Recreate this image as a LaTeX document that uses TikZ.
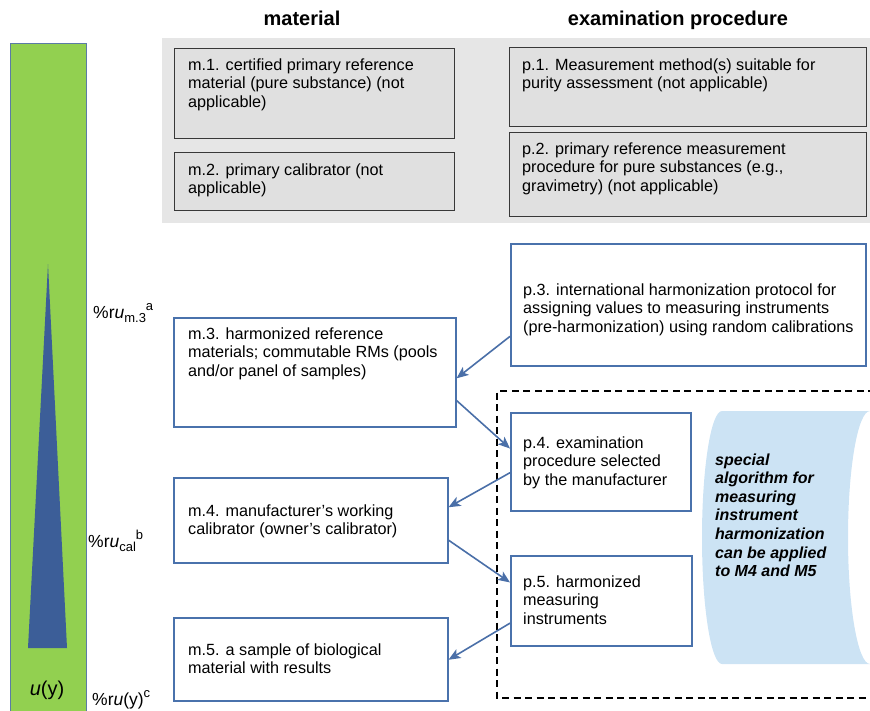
\documentclass[tikz,border=0pt]{standalone}
\usepackage{fontspec}
\setmainfont{Liberation Sans}
\usetikzlibrary{calc,arrows.meta}
\definecolor{bargreen}{HTML}{92D050}
\definecolor{barborder}{HTML}{5B7BA5}
\definecolor{tri}{HTML}{3C5E98}
\definecolor{boxblue}{HTML}{4A72AC}
\definecolor{arrowblue}{HTML}{4A6FA8}
\definecolor{panelgray}{HTML}{E6E6E6}
\definecolor{boxgray}{HTML}{E0E0E0}
\definecolor{lightblue}{HTML}{CCE3F4}
\newcommand\lsub[1]{\raisebox{-4.5pt}{\fontsize{13}{13}\selectfont #1}}
\newcommand\lsup[1]{\raisebox{7.5pt}{\fontsize{13}{13}\selectfont #1}}
\begin{document}
\begin{tikzpicture}[x=1pt,y=-1pt,
  graybox/.style={draw=black!78, fill=boxgray, line width=1.2pt, anchor=north west, inner sep=0},
  bluebox/.style={draw=boxblue, fill=white, line width=1.5pt, anchor=north west, inner sep=0},
  boxtext/.style={anchor=base west, inner sep=0, align=left, font=\fontsize{16.2}{18.5}\selectfont},
  conn/.style={draw=arrowblue, line width=1.6pt, -{Stealth[length=12pt,width=10pt,inset=3pt]}},
  header/.style={anchor=base, inner sep=0, font=\bfseries\fontsize{20}{24}\selectfont},
  ulabel/.style={anchor=base west, inner sep=0, font=\fontsize{17.5}{20}\selectfont},
]
\clip (0,0) rectangle (870,710);
% uncertainty bar
\draw[fill=bargreen, draw=barborder, line width=1pt] (10,43) rectangle (86,715);
\fill[tri] (48,264) -- (67,648) -- (28,648) -- cycle;
\node[anchor=base, inner sep=0, font=\fontsize{20}{24}\selectfont] (uy) at (47,695) {\textit{u}(y)};
\node[ulabel] (lm3) at (93,318) {\%r\textit{u}\lsub{m.3}\lsup{a}};
\node[ulabel] (lcal) at (88,547) {\%r\textit{u}\lsub{cal}\lsup{b}};
\node[ulabel] (luy) at (92,705) {\%r\textit{u}(y)\lsup{c}};
% headers
\node[header] (hm) at (302,25) {material};
\node[header] (hp) at (678,25) {examination procedure};
% gray panel
\fill[panelgray] (162,38) rectangle (875,223);
\node[graybox, minimum width=280, minimum height=90] (m1) at (174,48) {};
\node[graybox, minimum width=280, minimum height=58] (m2) at (174,152) {};
\node[graybox, minimum width=357, minimum height=79] (p1) at (509,47) {};
\node[graybox, minimum width=357, minimum height=84] (p2) at (509,132) {};
\node[boxtext] (m1t) at ([shift={(14,59)}]m1.north west) {m.1. certified primary reference\\material (pure substance) (not\\applicable)};
\node[boxtext] (m2t) at ([shift={(14,41.5)}]m2.north west) {m.2. primary calibrator (not\\applicable)};
\node[boxtext] (p1t) at ([shift={(13,41.5)}]p1.north west) {p.1. Measurement method(s) suitable for\\purity assessment (not applicable)};
\node[boxtext] (p2t) at ([shift={(13,59)}]p2.north west) {p.2. primary reference measurement\\procedure for pure substances (e.g.,\\gravimetry) (not applicable)};
% dashed frame and special algorithm
\draw[line width=1.3pt, dash pattern=on 7pt off 4.5pt] (875,391) -- (497,391) -- (497,698) -- (875,698);
\fill[lightblue] (722,411) -- (870,411)
  .. controls (857.9,411) and (848,467.7) .. (848,537.5)
  .. controls (848,607.3) and (857.9,664) .. (870,664)
  -- (722,664)
  .. controls (711,664) and (702,607.3) .. (702,537.5)
  .. controls (702,467.7) and (711,411) .. (722,411) -- cycle;
\node[anchor=base west, inner sep=0, align=left, font=\bfseries\itshape\fontsize{16}{18.6}\selectfont] (alg) at (715,576.6) {special\\algorithm for\\measuring\\instrument\\harmonization\\can be applied\\to M4 and M5};
% blue boxes
\node[bluebox, minimum width=355, minimum height=122] (p3) at (510,243) {};
\node[bluebox, minimum width=282, minimum height=109] (m3) at (173,317) {};
\node[bluebox, minimum width=180, minimum height=98] (p4) at (510,412) {};
\node[bluebox, minimum width=274, minimum height=85] (m4) at (173,477) {};
\node[bluebox, minimum width=181, minimum height=90] (p5) at (510,555) {};
\node[bluebox, minimum width=274, minimum height=83] (m5) at (173,617) {};
\node[boxtext] (p3t) at ([shift={(13,89)}]p3.north west) {p.3. international harmonization protocol for\\assigning values to measuring instruments\\(pre-harmonization) using random calibrations};
\node[boxtext] (m3t) at ([shift={(15,59)}]m3.north west) {m.3. harmonized reference\\materials; commutable RMs (pools\\and/or panel of samples)};
\node[boxtext] (p4t) at ([shift={(13,73)}]p4.north west) {p.4. examination\\procedure selected\\by the manufacturer};
\node[boxtext] (m4t) at ([shift={(15,57.5)}]m4.north west) {m.4. manufacturer’s working\\calibrator (owner’s calibrator)};
\node[boxtext] (p5t) at ([shift={(13,69)}]p5.north west) {p.5. harmonized\\measuring\\instruments};
\node[boxtext] (m5t) at ([shift={(15,56.5)}]m5.north west) {m.5. a sample of biological\\material with results};
% connectors
\draw[conn] ($(p3.north west)!0.756!(p3.south west)$) -- ($(m3.north east)!0.555!(m3.south east)$);
\draw[conn] ($(m3.north east)!0.755!(m3.south east)$) -- ($(p4.north west)!0.367!(p4.south west)$);
\draw[conn] ($(p4.north west)!0.61!(p4.south west)$) -- ($(m4.north east)!0.35!(m4.south east)$);
\draw[conn] ($(m4.north east)!0.73!(m4.south east)$) -- ($(p5.north west)!0.3!(p5.south west)$);
\draw[conn] ($(p5.north west)!0.745!(p5.south west)$) -- ($(m5.north east)!0.506!(m5.south east)$);
\end{tikzpicture}
\end{document}
